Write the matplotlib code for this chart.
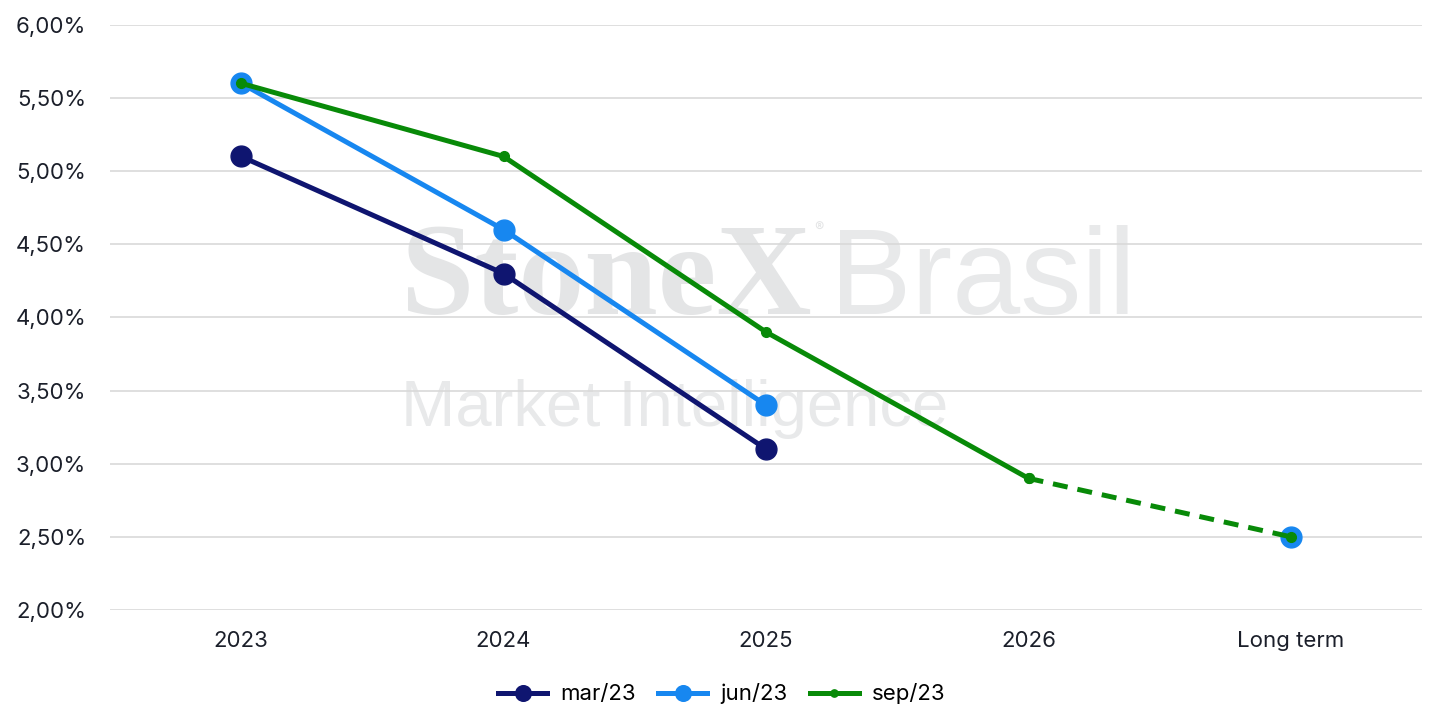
import matplotlib.pyplot as plt
import numpy as np
from matplotlib.ticker import FuncFormatter

categories = ['2023', '2024', '2025', '2026', 'Long term']
mar23 = [5.10, 4.30, 3.10, np.nan, np.nan]
jun23 = [5.60, 4.60, 3.40, np.nan, 2.50]
sep23 = [5.60, 5.10, 3.90, 2.90, 2.50]

plt.rcParams['font.family'] = ['Inter', 'DejaVu Sans']

c_mar = '#0f1570'
c_jun = '#1787f0'
c_sep = '#088a08'
wm = '#e4e5e6'

fig = plt.figure(figsize=(14.44, 7.28), dpi=100)
ax = fig.add_axes([0.076, 0.162, 0.909, 0.804])
x = np.arange(len(categories))

# marca d'agua (coordenadas do eixo)
ax.text(0.222, 0.505, 'StoneX', transform=ax.transAxes, fontsize=95,
        family='Liberation Serif', weight='bold', color=wm, zorder=0)
ax.text(0.537, 0.645, '®', transform=ax.transAxes, fontsize=10, color=wm, zorder=0)
ax.text(0.549, 0.505, 'Brasil', transform=ax.transAxes, fontsize=88,
        family='Liberation Sans', color='#e8e9ea', zorder=0)
ax.text(0.222, 0.315, 'Market Intelligence', transform=ax.transAxes, fontsize=47,
        family='Liberation Sans', color='#e8e9ea', zorder=0)

ax.plot(x, mar23, color=c_mar, lw=3.6, marker='o', ms=15, label='mar/23', zorder=3)
ax.plot(x, jun23, color=c_jun, lw=3.6, marker='o', ms=15, label='jun/23', zorder=4)
ax.plot(x[:4], sep23[:4], color=c_sep, lw=3.6, marker='o', ms=7, label='sep/23', zorder=5)
ax.plot(x[3:], sep23[3:], color=c_sep, lw=3.6, ls=(0, (3, 2)), marker='o', ms=7, zorder=5)

ax.set_xlim(-0.5, 4.5)
ax.set_ylim(2.0, 6.0)
ax.set_yticks(np.arange(2.0, 6.01, 0.5))
ax.yaxis.set_major_formatter(FuncFormatter(lambda v, p: f'{v:.2f}%'.replace('.', ',')))
ax.set_xticks(x)
ax.set_xticklabels(categories)
ax.tick_params(length=0, labelsize=16, colors='#1b1f2a')
ax.tick_params(axis='y', pad=17)
ax.tick_params(axis='x', pad=15)
ax.grid(axis='y', color='#d9d9d9', lw=1.2, zorder=1)
ax.set_axisbelow(True)
for s in ax.spines.values():
    s.set_visible(False)

fig.legend(loc='lower center', bbox_to_anchor=(0.5, 0.005), ncol=3, frameon=False,
           fontsize=16, handlelength=2.2, columnspacing=1.0, handletextpad=0.6,
           markerscale=0.75)

fig.savefig('out.png', dpi=100)
